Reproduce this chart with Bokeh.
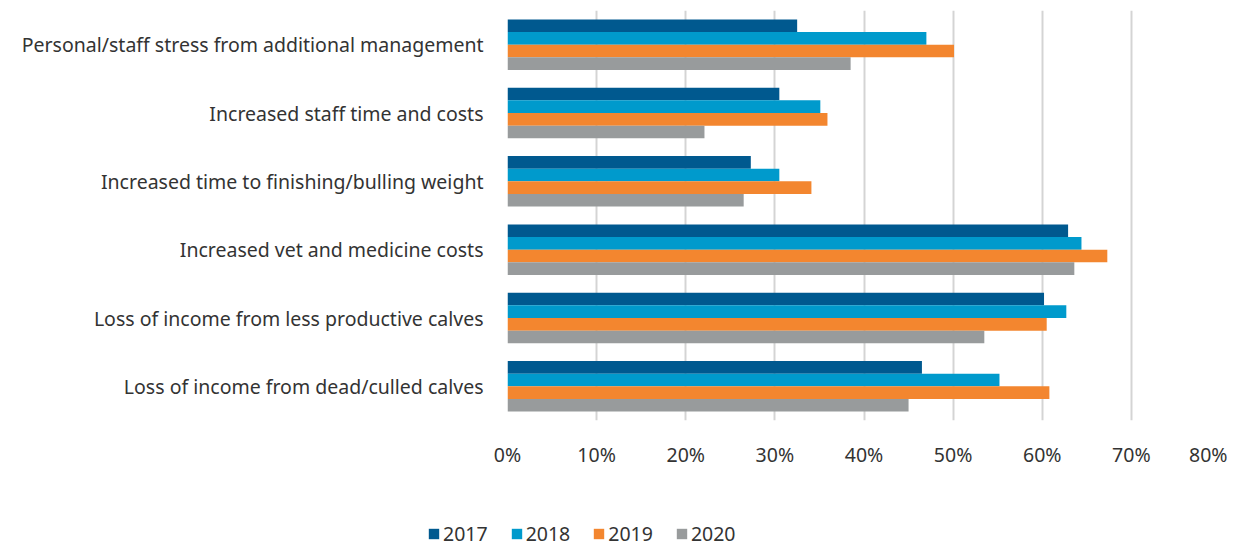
from bokeh.plotting import figure
from bokeh.models import (Range1d, FactorRange, FixedTicker, PrintfTickFormatter,
                          Legend, LegendItem, ColumnDataSource)
from bokeh.transform import dodge
from bokeh.embed import file_html
from bokeh.resources import INLINE

categories = [
    "Personal/staff stress from additional management",
    "Increased staff time and costs",
    "Increased time to finishing/bulling weight",
    "Increased vet and medicine costs",
    "Loss of income from less productive calves",
    "Loss of income from dead/culled calves",
]
years = ["2017", "2018", "2019", "2020"]
v2017 = [32.5, 30.5, 27.3, 62.9, 60.2, 46.5]
v2018 = [47.0, 35.1, 30.5, 64.4, 62.7, 55.2]
v2019 = [50.1, 35.9, 34.1, 67.3, 60.5, 60.8]
v2020 = [38.5, 22.1, 26.5, 63.6, 53.5, 45.0]
x_ticks = [0, 10, 20, 30, 40, 50, 60, 70, 80]

colors = ["#00598F", "#009ACC", "#F3862F", "#989B9C"]
FONT = "Noto Sans"
TXT = "#333333"

src = ColumnDataSource(dict(cat=categories, y2017=v2017, y2018=v2018,
                            y2019=v2019, y2020=v2020))

p = figure(width=1227, height=470, output_backend="svg", toolbar_location=None,
           y_range=FactorRange(factors=categories[::-1], range_padding=0),
           x_range=Range1d(0, 80),
           min_border_left=507, min_border_right=7, min_border_top=10,
           min_border_bottom=48)
p.outline_line_color = None
p.background_fill_color = "white"

bh = 0.185
offs = [1.5 * bh, 0.5 * bh, -0.5 * bh, -1.5 * bh]
fields = ["y2017", "y2018", "y2019", "y2020"]
for f, c, o in zip(fields, colors, offs):
    p.hbar(y=dodge("cat", o, range=p.y_range), right=f, left=0, height=bh,
           source=src, fill_color=c, line_color=None)

p.xaxis.ticker = FixedTicker(ticks=x_ticks)
p.xaxis.formatter = PrintfTickFormatter(format="%d%%")
p.xaxis.axis_line_color = None
p.xaxis.major_tick_line_color = None
p.xaxis.minor_tick_line_color = None
p.xaxis.major_label_standoff = 14
p.xaxis.major_label_text_font = FONT
p.xaxis.major_label_text_font_size = "19.5px"
p.xaxis.major_label_text_color = TXT

p.yaxis.axis_line_color = None
p.yaxis.major_tick_line_color = None
p.yaxis.minor_tick_line_color = None
p.yaxis.major_label_standoff = 18
p.yaxis.major_label_text_font = FONT
p.yaxis.major_label_text_font_size = "19.5px"
p.yaxis.major_label_text_color = TXT

p.ygrid.grid_line_color = None
p.xgrid.grid_line_color = "#d4d4d4"
p.xgrid.grid_line_width = 2

# legend strip below the chart (separate root so its frame spans full width)
lg = figure(width=1227, height=77, output_backend="svg", toolbar_location=None,
            x_range=Range1d(0, 80), y_range=FactorRange(factors=categories[::-1]),
            min_border_left=0, min_border_right=0, min_border_top=0,
            min_border_bottom=0)
lg.axis.visible = False
lg.grid.visible = False
lg.outline_line_color = None
renderers = []
for f, c in zip(fields, colors):
    r = lg.hbar(y="cat", right=f, left=0, height=bh, source=src,
                fill_color=c, line_color=None, visible=False)
    renderers.append(r)

legend = Legend(items=[LegendItem(label=y, renderers=[r]) for y, r in zip(years, renderers)],
                orientation="horizontal", location=(427, 0),
                glyph_width=13, glyph_height=13, label_standoff=3, spacing=22,
                padding=0, margin=0, border_line_color=None,
                background_fill_alpha=0,
                label_text_font=FONT, label_text_font_size="19.5px",
                label_text_color=TXT, label_height=13)
lg.add_layout(legend, "center")

open("out.html", "w").write(file_html([p, lg], INLINE))
